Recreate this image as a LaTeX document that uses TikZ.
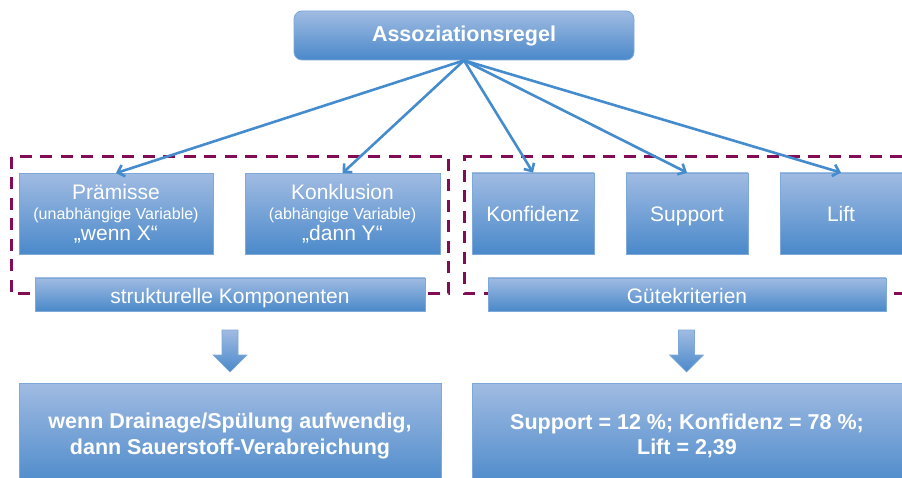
\documentclass[tikz,border=0pt]{standalone}
\usepackage{fontspec}
\setmainfont{Liberation Sans}
\usetikzlibrary{arrows.meta}
\definecolor{boxtop}{RGB}{160,187,226}
\definecolor{boxbot}{RGB}{74,137,202}
\definecolor{boxline}{RGB}{125,168,216}
\definecolor{arrowblue}{RGB}{68,140,205}
\definecolor{framecol}{RGB}{130,12,85}
\begin{document}
\begin{tikzpicture}[x = 1pt, y = -1pt,
        box/.style = {draw = boxline, line width = 0.8pt, top color = boxtop, bottom color = boxbot,
            text = white, align = center, inner sep = 0pt, font = \fontsize{21}{24}\selectfont},
        oneline/.style = {text height = 20pt, text depth = 3pt},
        frame/.style = {draw = framecol, line width = 3pt, dash pattern = on 12pt off 8.5pt},
        link/.style = {draw = arrowblue, line width = 2.6pt, -{Straight Barb[length = 6pt, width = 12pt]}}]
            \useasboundingbox (0,0) rectangle (902,478);
            % dashed frames
            \draw[frame] (11,157) rectangle (448,294);
            \draw[frame] (902,157) -- (464,157) -- (464,294) -- (902,294);
            % boxes
            \node[box, text height = 17pt, text depth = 4pt, rounded corners = 8pt, minimum width = 340pt, minimum height = 49pt, font = \fontsize{21.5}{24}\selectfont\bfseries] (regel) at (464,35.5) {Assoziationsregel};
            \node[box, minimum width = 194pt, minimum height = 81pt] (praemisse) at (116,214) {\\[-10pt] Prämisse\\[-4pt] {\fontsize{16}{19}\selectfont (unabhängige Variable)}\\[-3pt] „wenn X“};
            \node[box, minimum width = 195pt, minimum height = 81pt] (konklusion) at (342.5,214) {\\[-10pt] Konklusion\\[-4pt] {\fontsize{16}{19}\selectfont (abhängige Variable)}\\[-3pt] „dann Y“};
            \node[box, oneline, minimum width = 122pt, minimum height = 81pt] (konfidenz) at (533,213.5) {Konfidenz};
            \node[box, oneline, minimum width = 122pt, minimum height = 81pt] (support) at (687,213.5) {Support};
            \node[box, oneline, minimum width = 122pt, minimum height = 81pt] (lift) at (841,213.5) {Lift};
            \node[box, oneline, minimum width = 390pt, minimum height = 33pt] (struktur) at (230,294.5) {strukturelle Komponenten};
            \node[box, oneline, minimum width = 398pt, minimum height = 33pt] (guete) at (687,294.5) {Gütekriterien};
            \node[box, minimum width = 422pt, minimum height = 106pt, font = \fontsize{21.5}{25.5}\selectfont\bfseries] (beispiel) at (230,436) {wenn Drainage/Spülung aufwendig,\\ dann Sauerstoff-Verabreichung};
            \node[box, minimum width = 430pt, minimum height = 106pt, font = \fontsize{21.5}{25.5}\selectfont\bfseries] (werte) at (687,436) {Support = 12 \%; Konfidenz = 78 \%;\\ Lift = 2,39};
            % connectors
            \foreach \target in {praemisse, konklusion, konfidenz, support, lift}
                \draw[link] (regel.south) -- (\target.north);
            % block arrows
            \foreach \cx in {230, 686.5}
                \shade[draw = boxline, line width = 0.6pt, top color = boxtop, bottom color = boxbot]
                    (\cx-8,330) -- (\cx+8,330) -- (\cx+8,355) -- (\cx+17,355) -- (\cx,372) -- (\cx-17,355) -- (\cx-8,355) -- cycle;
        \end{tikzpicture}
\end{document}
